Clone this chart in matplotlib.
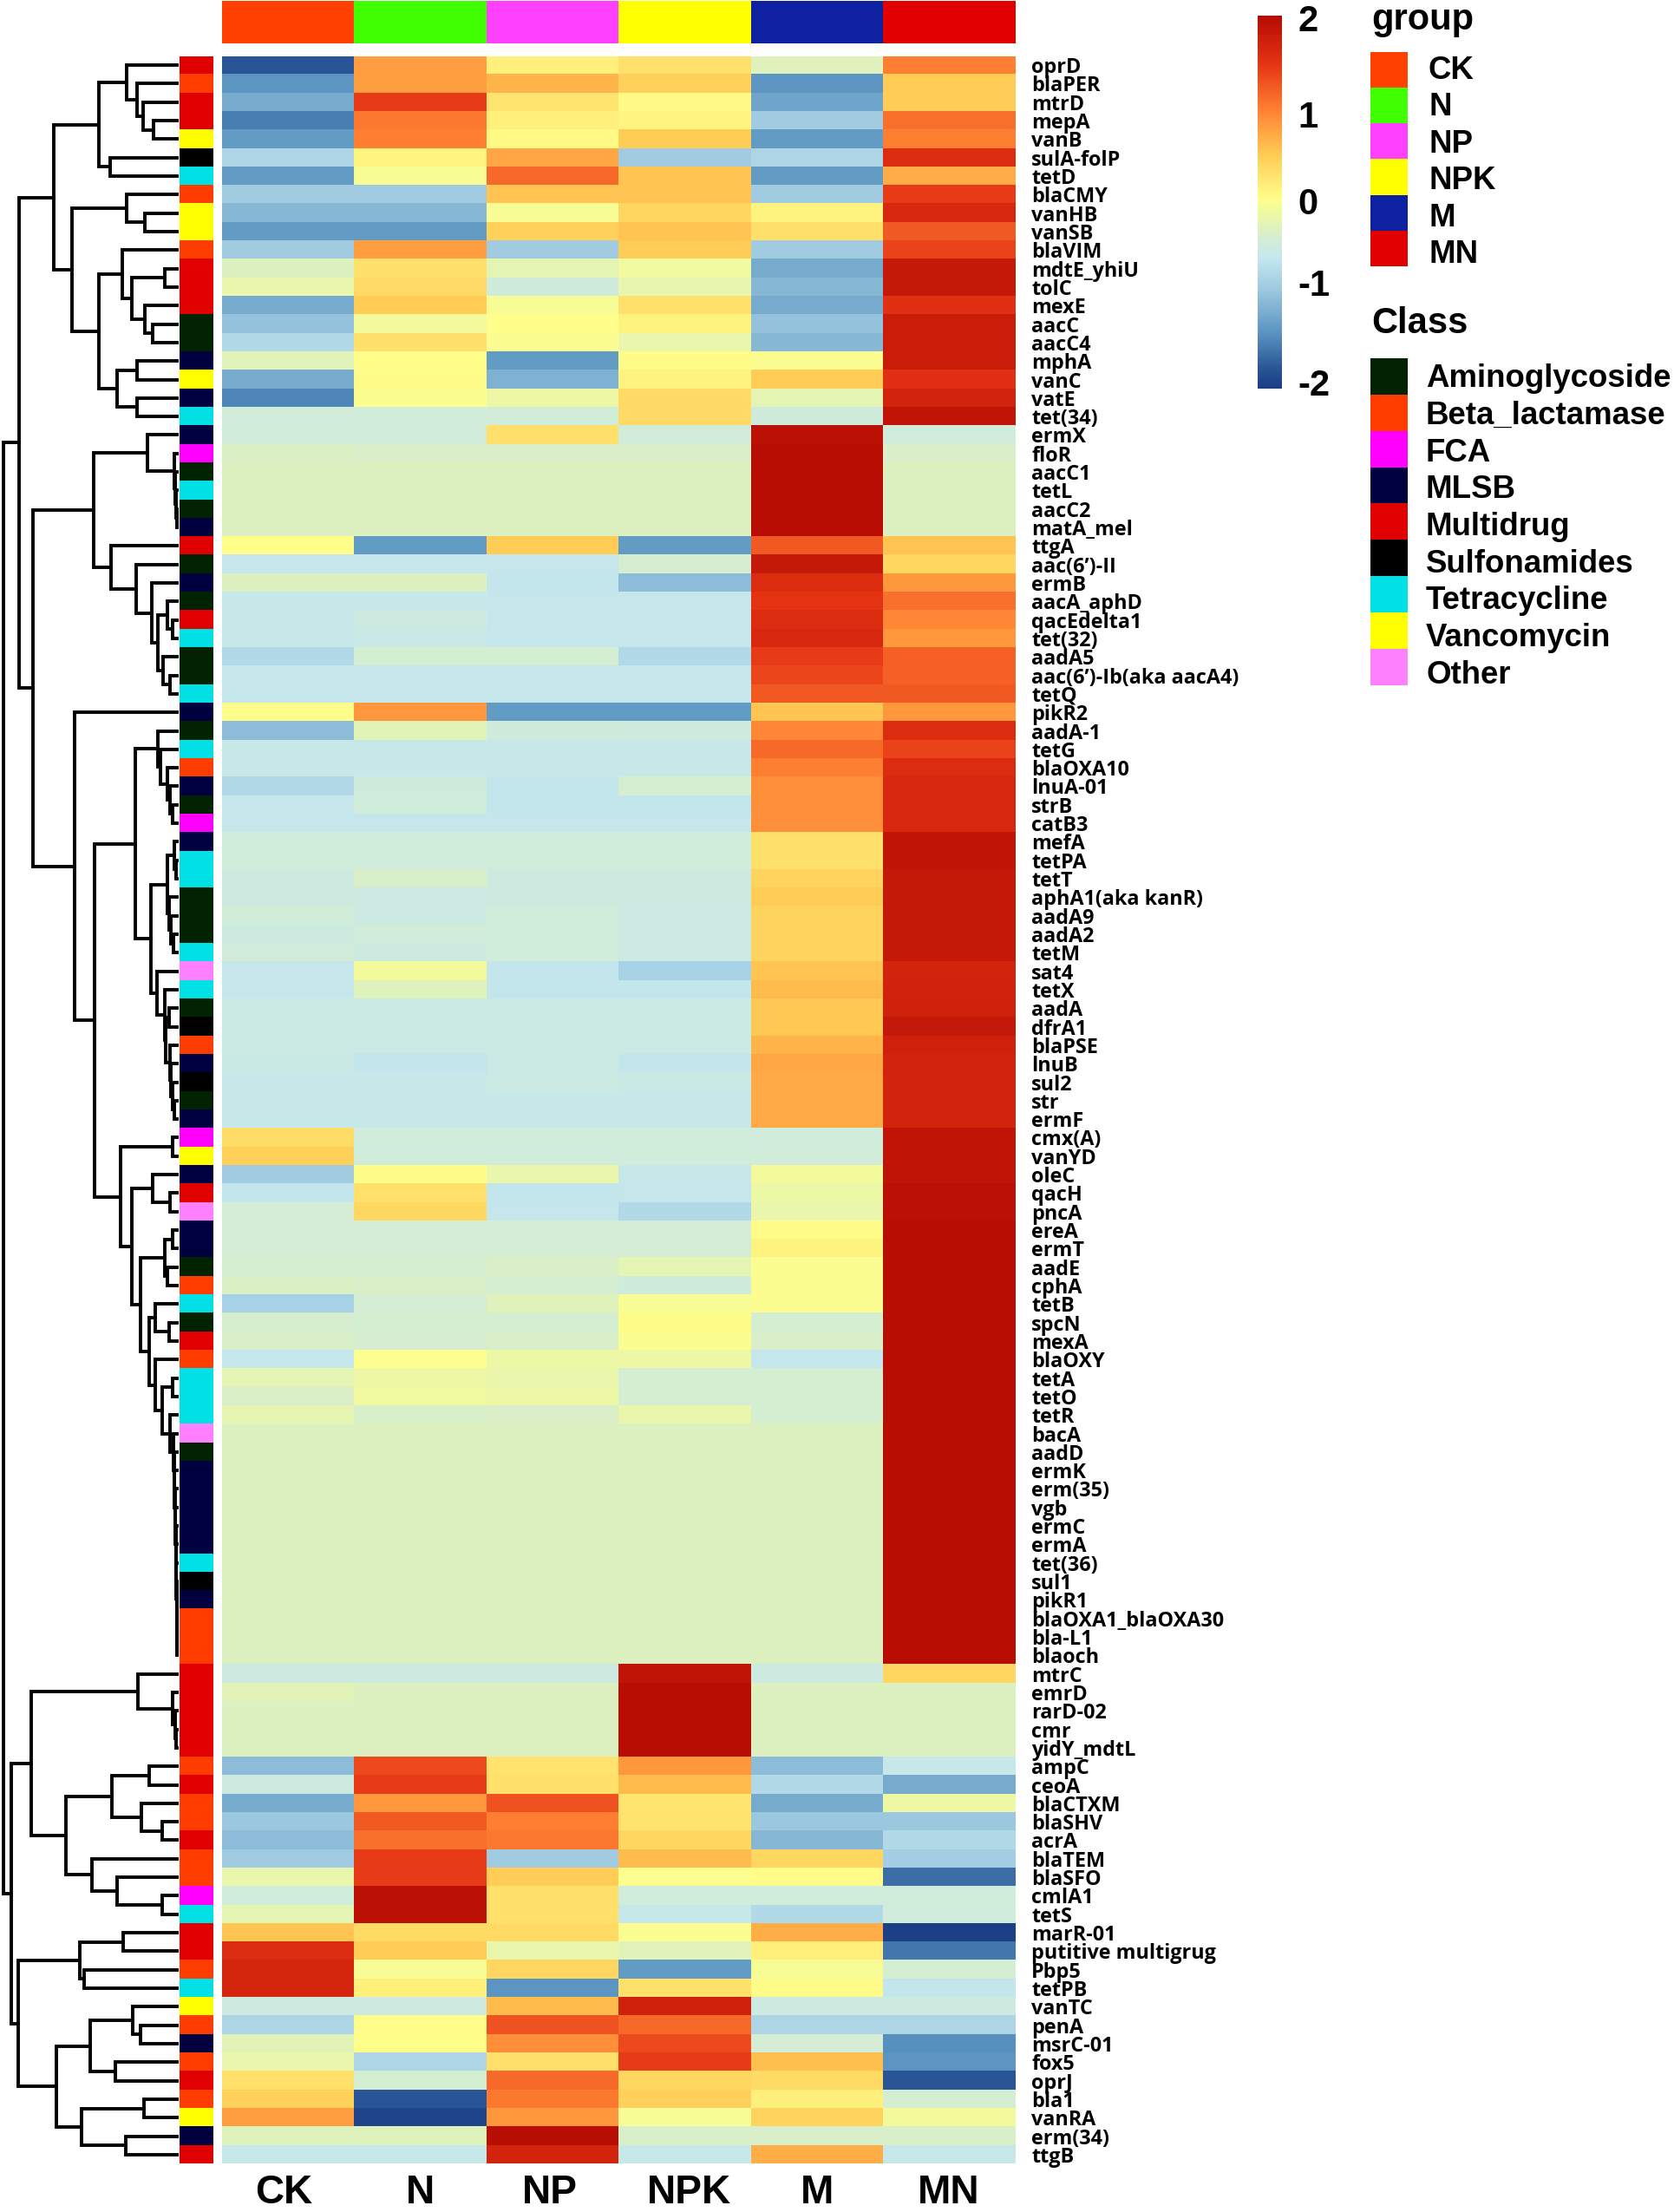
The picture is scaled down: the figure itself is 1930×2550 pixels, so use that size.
import numpy as np
import matplotlib
matplotlib.use("Agg")
import matplotlib.pyplot as plt
from matplotlib.colors import LinearSegmentedColormap, ListedColormap, Normalize

W, H = 1930, 2550

genes = ["oprD","blaPER","mtrD","mepA","vanB","sulA-folP","tetD","blaCMY","vanHB","vanSB","blaVIM","mdtE_yhiU","tolC","mexE","aacC","aacC4","mphA","vanC","vatE","tet(34)",
"ermX","floR","aacC1","tetL","aacC2","matA_mel","ttgA","aac(6’)-II","ermB","aacA_aphD","qacEdelta1","tet(32)","aadA5","aac(6’)-Ib(aka aacA4)","tetQ",
"pikR2","aadA-1","tetG","blaOXA10","lnuA-01","strB","catB3",
"mefA","tetPA","tetT","aphA1(aka kanR)","aadA9","aadA2","tetM","sat4","tetX","aadA","dfrA1","blaPSE","lnuB","sul2","str","ermF",
"cmx(A)","vanYD","oleC","qacH","pncA","ereA","ermT","aadE","cphA","tetB","spcN","mexA","blaOXY","tetA","tetO","tetR","bacA","aadD","ermK","erm(35)","vgb","ermC","ermA","tet(36)","sul1","pikR1","blaOXA1_blaOXA30","bla-L1","blaoch",
"mtrC","emrD","rarD-02","cmr","yidY_mdtL",
"ampC","ceoA","blaCTXM","blaSHV","acrA","blaTEM","blaSFO","cmlA1","tetS","marR-01","putitive multigrug","Pbp5","tetPB","vanTC","penA","msrC-01","fox5","oprJ","bla1","vanRA","erm(34)","ttgB"]

groups = ["CK","N","NP","NPK","M","MN"]
group_colors = ["#FF4000","#40FF00","#FF40FF","#FFFF00","#0D21A1","#E00000"]

class_names = ["Aminoglycoside","Beta_lactamase","FCA","MLSB","Multidrug","Sulfonamides","Tetracycline","Vancomycin","Other"]
class_colors = ["#012301","#FF3D00","#FF00FF","#00003F","#E00000","#000000","#00E0E5","#FFFF00","#FF80FF"]
# A B F L M S T V O, one letter per row
row_class = ("MBMMVSTBVVBMMMAALVLT"
             "LFATALMALAMTAAT"
             "LATBLAF"
             "LTTAAATOTASBLSAL"
             "FVLMOLLABTAMBTTTOALLLLLTSLBBB"
             "MMMMM"
             "BMBBMBBFTMMBTVBLBMBVLM")
class_key = "ABFLMSTVO"

values = [
[-1.85,0.8,0.15,0.3,-0.3,1.0],[-1.45,0.8,0.65,0.45,-1.45,0.5],[-1.25,1.45,0.25,0.05,-1.3,0.5],[-1.6,1.05,0.15,0.1,-0.95,1.1],[-1.4,1.0,0.05,0.5,-1.4,1.0],
[-0.85,0.1,0.75,-0.95,-0.85,1.6],[-1.4,-0.05,1.15,0.55,-1.4,0.7],[-0.95,-0.95,0.55,0.55,-0.95,1.45],[-1.15,-1.15,-0.05,0.4,0.12,1.65],[-1.4,-1.4,0.45,0.55,0.3,1.25],
[-0.95,0.8,-0.95,0.5,-0.95,1.4],[-0.33,0.3,-0.25,-0.12,-1.25,1.85],[-0.2,0.35,-0.48,-0.22,-1.15,1.85],[-1.25,0.5,-0.05,0.3,-1.25,1.55],[-1.05,-0.1,0.0,0.12,-1.05,1.8],
[-0.8,0.3,-0.03,-0.2,-1.15,1.8],[-0.28,0.0,-1.4,0.03,-0.03,1.8],[-1.25,0.02,-1.2,0.12,0.5,1.55],[-1.55,-0.03,-0.15,0.35,-0.25,1.7],[-0.45,-0.45,-0.45,0.35,-0.48,1.9],
[-0.45,-0.45,0.3,-0.45,1.95,-0.45],[-0.35,-0.37,-0.37,-0.37,2,-0.37],[-0.33,-0.33,-0.33,-0.33,2,-0.33],[-0.33,-0.33,-0.33,-0.33,2,-0.33],[-0.33,-0.33,-0.33,-0.33,2,-0.33],
[-0.33,-0.33,-0.33,-0.33,2,-0.33],[0.0,-1.4,0.5,-1.4,1.25,0.55],[-0.62,-0.62,-0.62,-0.4,1.85,0.4],[-0.33,-0.33,-0.65,-1.1,1.6,0.85],[-0.6,-0.6,-0.63,-0.63,1.5,1.1],
[-0.6,-0.52,-0.62,-0.62,1.6,0.95],[-0.6,-0.58,-0.62,-0.62,1.65,0.85],[-0.8,-0.42,-0.42,-0.8,1.45,1.2],[-0.62,-0.62,-0.62,-0.62,1.38,1.2],[-0.62,-0.62,-0.62,-0.62,1.25,1.25],
[0.0,0.85,-1.4,-1.4,0.55,0.85],[-1.1,-0.27,-0.48,-0.5,0.95,1.6],[-0.6,-0.6,-0.6,-0.6,1.15,1.4],[-0.6,-0.6,-0.6,-0.6,1.0,1.6],[-0.8,-0.48,-0.65,-0.42,0.9,1.65],
[-0.63,-0.47,-0.65,-0.65,0.9,1.65],[-0.63,-0.63,-0.63,-0.63,0.9,1.65],[-0.47,-0.47,-0.47,-0.47,0.3,1.9],[-0.47,-0.47,-0.47,-0.47,0.3,1.9],[-0.52,-0.38,-0.52,-0.52,0.42,1.85],
[-0.52,-0.53,-0.52,-0.52,0.5,1.85],[-0.45,-0.53,-0.47,-0.53,0.42,1.85],[-0.52,-0.45,-0.47,-0.53,0.42,1.85],[-0.45,-0.52,-0.47,-0.53,0.42,1.85],[-0.63,-0.1,-0.65,-0.9,0.55,1.7],
[-0.63,-0.3,-0.65,-0.65,0.6,1.72],[-0.55,-0.55,-0.55,-0.55,0.52,1.75],[-0.55,-0.55,-0.55,-0.55,0.52,1.85],[-0.55,-0.55,-0.55,-0.55,0.65,1.75],[-0.57,-0.65,-0.55,-0.65,0.75,1.7],
[-0.6,-0.6,-0.55,-0.57,0.72,1.7],[-0.6,-0.6,-0.6,-0.6,0.72,1.7],[-0.6,-0.6,-0.6,-0.6,0.72,1.7],[0.33,-0.47,-0.47,-0.47,-0.47,1.9],[0.45,-0.47,-0.47,-0.47,-0.45,1.9],
[-0.95,0.03,-0.2,-0.6,-0.1,1.9],[-0.65,0.3,-0.65,-0.62,-0.17,1.95],[-0.43,0.38,-0.63,-0.8,-0.2,1.95],[-0.43,-0.43,-0.43,-0.43,0.02,2],[-0.43,-0.43,-0.43,-0.43,0.12,2],
[-0.42,-0.42,-0.36,-0.25,-0.03,2],[-0.35,-0.36,-0.42,-0.48,-0.03,2],[-0.9,-0.43,-0.3,-0.05,-0.03,2],[-0.4,-0.42,-0.42,0.03,-0.42,2],[-0.38,-0.4,-0.38,-0.03,-0.38,2],
[-0.62,-0.02,-0.17,-0.15,-0.63,2],[-0.25,-0.15,-0.2,-0.42,-0.42,2],[-0.36,-0.12,-0.17,-0.42,-0.42,2],[-0.23,-0.38,-0.36,-0.2,-0.42,2],
[-0.33,-0.33,-0.33,-0.33,-0.33,2],[-0.33,-0.33,-0.33,-0.33,-0.33,2],[-0.33,-0.33,-0.33,-0.33,-0.33,2],[-0.33,-0.33,-0.33,-0.33,-0.33,2],[-0.33,-0.33,-0.33,-0.33,-0.33,2],
[-0.33,-0.33,-0.33,-0.33,-0.33,2],[-0.33,-0.33,-0.33,-0.33,-0.33,2],[-0.33,-0.33,-0.33,-0.33,-0.33,2],[-0.33,-0.33,-0.33,-0.33,-0.33,2],[-0.33,-0.33,-0.33,-0.33,-0.33,2],
[-0.33,-0.33,-0.33,-0.33,-0.33,2],[-0.33,-0.33,-0.33,-0.33,-0.33,2],[-0.33,-0.33,-0.33,-0.33,-0.33,2],
[-0.52,-0.52,-0.52,1.9,-0.52,0.4],[-0.27,-0.33,-0.33,2,-0.33,-0.33],[-0.33,-0.33,-0.33,2,-0.33,-0.33],[-0.33,-0.33,-0.33,2,-0.33,-0.33],[-0.33,-0.33,-0.33,2,-0.33,-0.33],
[-1.1,1.35,0.27,0.85,-1.1,-0.6],[-0.52,1.45,0.3,0.6,-0.8,-1.25],[-1.25,0.85,1.3,0.25,-1.25,-0.15],[-1.0,1.25,1.0,0.27,-1.0,-1.0],[-1.1,1.1,1.05,0.4,-1.15,-0.8],
[-0.95,1.45,-0.95,0.6,0.4,-0.92],[-0.2,1.45,0.5,-0.02,0.02,-1.7],[-0.47,1.95,0.3,-0.47,-0.47,-0.47],[-0.25,1.95,0.3,-0.6,-0.8,-0.47],[0.55,0.35,0.35,-0.03,0.7,-2.05],
[1.6,0.5,-0.2,-0.28,0.15,-1.65],[1.68,-0.05,0.4,-1.4,-0.05,-0.42],[1.68,0.15,-1.45,0.3,0.02,-0.65],[-0.52,-0.52,0.6,1.75,-0.52,-0.52],[-0.85,0.0,1.3,1.15,-0.85,-0.85],
[-0.27,0.0,0.9,1.35,-0.43,-1.5],[-0.2,-0.85,0.3,1.45,0.58,-1.45],[0.3,-0.42,1.15,0.4,0.35,-1.85],[0.45,-1.85,1.05,0.45,0.15,-0.42],[0.8,-2.0,0.85,-0.05,0.42,-0.1],
[-0.3,-0.3,1.98,-0.37,-0.37,-0.37],[-0.6,-0.6,1.7,-0.6,0.7,-0.6]]

cbar_labels = ["2", "1", "0", "-1", "-2"]

# Row dendrogram: (merge height, child, child); integers are 1-based rows
tail = (448,75,(450,76,(451,77,(452,78,(453,79,(454,80,(455,81,(455.5,82,(456,83,(456.5,84,(457,85,(457.3,86,87))))))))))))
J_node = (402,71,(420,(445,72,73),(440,74,tail)))
H_node = (385,(400,68,(437,69,70)),J_node)
D_node = (362,(425,(445,64,65),(432,66,67)),H_node)
B2 = (340,(395,61,(440,62,63)),D_node)
Y2 = (312,(445,59,60),B2)
A1 = (432,(450,43,(455,44,45)),(437,46,(441,47,(447,48,49))))
A2 = (405,50,(425,51,(428,(436,52,53),(438,54,(442,55,(446,56,(450,57,58)))))))
Y1 = (350,(408,37,(415,38,(432,39,(440,40,(445,41,42))))),(390,A1,A2))
W2 = (193,36,(245,Y1,Y2))
W1 = (243,(380,21,(450,22,(453,23,(455,24,(456,25,26))))),
      (287,27,(352,28,(392,29,(408,(432,30,(445,31,32)),(422,33,(440,34,35)))))))
V1 = (255,(327,1,(355,2,(370,3,(397,4,5)))),(285,6,7))
V2 = (185,(328,8,(375,9,10)),
      (255,(315,11,(340,(425,12,13),(375,14,(395,15,16)))),(302,(355,17,18),(355,19,20))))
T1 = (50,(140,V1,V2),(85,W1,W2))
N1 = (80,(357,88,(445,89,(452,90,(455,91,92)))),
      (170,(290,(385,93,94),(365,95,(420,96,97))),(237,98,(302,99,(420,100,101)))))
N2 = (48,(207,(318,102,103),(217,104,105)),
      (145,(232,(342,106,(362,107,108)),(297,109,110)),(210,(372,111,112),(325,113,114))))
dendro_tree = (8,T1,(30,N1,N2))
LEAF_H = 458

matplotlib.rcParams["font.family"] = ["Liberation Sans", "DejaVu Sans"]
fig = plt.figure(figsize=(W/100, H/100), dpi=100, facecolor="white")

def axpx(x0, y0, x1, y1):
    return fig.add_axes([x0/W, 1-y1/H, (x1-x0)/W, (y1-y0)/H])

vmin, vmax = -2.1, 2.05
stops = [(-2.1,"#1A3A85"),(-1.85,"#2A5596"),(-1.5,"#5590BE"),(-1.0,"#9CC8E0"),(-0.65,"#C4E7EE"),
         (-0.45,"#D2EDD9"),(-0.33,"#DDF1C1"),(-0.1,"#F3FB9C"),(0,"#FFFF8C"),(0.5,"#FFCC55"),
         (1.0,"#FF8033"),(1.5,"#E53414"),(2.05,"#B30A02")]
cmap = LinearSegmentedColormap.from_list("hm", [((v-vmin)/(vmax-vmin), c) for v, c in stops], N=512)
norm = Normalize(vmin, vmax)

HX0, HX1, HY0, HY1 = 256, 1171, 64.5, 2494.5
data = np.array(values)
n = len(genes)

ax = axpx(HX0, HY0, HX1, HY1)
ax.imshow(data, cmap=cmap, norm=norm, aspect="auto", interpolation="nearest")
for s in ax.spines.values():
    s.set_visible(False)
ax.yaxis.tick_right()
ax.set_yticks(range(n))
ax.set_yticklabels(genes, family=["Open Sans","DejaVu Sans"], fontweight="bold", fontsize=16.8)
ax.set_xticks([-0.03, 1, 1.98, 3.03, 4, 4.99])
ax.set_xticklabels(groups, fontsize=33, fontweight="bold")
ax.tick_params(axis="both", length=0)
ax.tick_params(axis="y", pad=13)
ax.tick_params(axis="x", pad=8.5)

# top annotation
a = axpx(HX0, 1, HX1, 50)
a.imshow(np.arange(6)[None, :], cmap=ListedColormap(group_colors), aspect="auto", interpolation="nearest")
a.axis("off")

# row annotation
a = axpx(207, HY0, 245.5, HY1)
a.imshow(np.array([class_key.index(c) for c in row_class])[:, None],
         cmap=ListedColormap(class_colors), vmin=0, vmax=8, aspect="auto", interpolation="nearest")
a.axis("off")

# dendrogram
d = axpx(0, HY0, LEAF_H/2.24, HY1)
d.set_xlim(0, LEAF_H)
d.set_ylim(n-0.5, -0.5)
d.axis("off")
def walk(node):
    if isinstance(node, int):
        return LEAF_H, node-1
    h, l, r = node
    hl, yl = walk(l)
    hr, yr = walk(r)
    d.plot([hl, h, h, hr], [yl, yl, yr, yr], color="black", lw=2.8, clip_on=False, solid_joinstyle="miter")
    return h, (yl+yr)/2
walk(dendro_tree)

# colourbar
c = axpx(1450, 18, 1478, 448)
grad = np.linspace(2.02, -2.07, 400)[:, None]
c.imshow(grad, cmap=cmap, norm=norm, aspect="auto", extent=[0, 1, -2.07, 2.02])
c.set_xticks([])
c.yaxis.tick_right()
c.set_yticks([2.0, 0.94, -0.015, -0.905, -2.0])
c.set_yticklabels(cbar_labels, fontsize=30, fontweight="bold")
c.tick_params(axis="y", length=0, pad=13)
for s in c.spines.values():
    s.set_visible(False)

# legends
def legend(y0, y1, names, colors, lx, ty0, tstep):
    k = len(names)
    l = axpx(1580, y0, 1623, y1)
    l.imshow(np.arange(k)[:, None], cmap=ListedColormap(colors), aspect="auto", interpolation="nearest")
    l.axis("off")
    for i, nm in enumerate(names):
        fig.text(lx/W, 1-(ty0+tstep*i+13)/H, nm, fontsize=26.4, fontweight="bold", ha="left", va="baseline")

fig.text(1581/W, 1-34/H, "group", fontsize=30, fontweight="bold", ha="left", va="baseline")
legend(60, 307, groups, group_colors, 1647, 78, 42.4)
fig.text(1581/W, 1-384/H, "Class", fontsize=30, fontweight="bold", ha="left", va="baseline")
legend(413, 790, class_names, class_colors, 1644, 433, 42.75)

fig.savefig("out.png", dpi=100, facecolor="white")
